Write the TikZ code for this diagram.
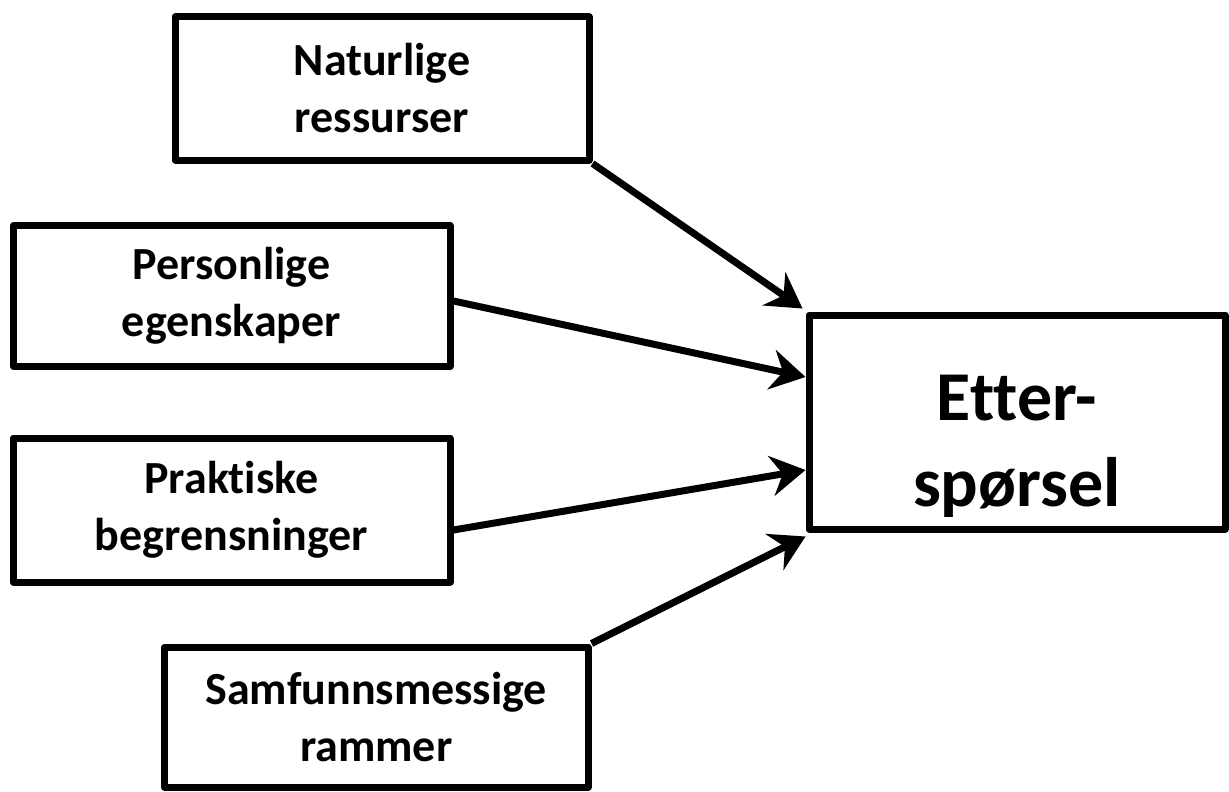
\documentclass[tikz,border=0pt]{standalone}
\usepackage{fontspec}
\setmainfont{Carlito}[Ligatures=NoCommon]
\usetikzlibrary{arrows.meta}
\begin{document}
\begin{tikzpicture}[x=1pt,y=-1pt,
  box/.style={draw=black,line width=7pt,line join=round,rectangle,align=center,inner sep=0pt,
    font=\bfseries\fontsize{46}{57}\selectfont},
  bigtext/.style={align=center,inner sep=0pt,font=\bfseries\fontsize{70}{86}\selectfont},
  conn/.style={line width=7pt,-{Stealth[length=35pt,width=41pt,inset=12pt,line width=0pt]}}]
\useasboundingbox (0,0) rectangle (1229,792);
\node[box,minimum width=414pt,minimum height=143pt] (n1) at (382,88.5) {Naturlige\\ressurser};
\node[box,minimum width=437pt,minimum height=140.5pt] (n2) at (231.5,296) {Personlige\\egenskaper};
\node[box,minimum width=437pt,minimum height=144pt] (n3) at (231.5,510) {Praktiske\\begrensninger};
\node[box,minimum width=423.5pt,minimum height=140pt] (n4) at (376.25,717) {Samfunnsmessige\\rammer};
\node[box,minimum width=416pt,minimum height=214pt] (e) at (1017,422) {};
\node[bigtext] (et) at ([yshift=-24pt]e.center) {Etter-\\spørsel};
\draw[conn] (n1.south east) -- ([xshift=-3pt,yshift=3pt]e.north west);
\draw[conn] ([yshift=-5pt]n2.east) -- ([yshift=45pt]e.west);
\draw[conn] ([yshift=-20pt]n3.east) -- ([yshift=-48pt]e.west);
\draw[conn] (n4.north east) -- ([yshift=-4pt]e.south west);
\end{tikzpicture}
\end{document}
